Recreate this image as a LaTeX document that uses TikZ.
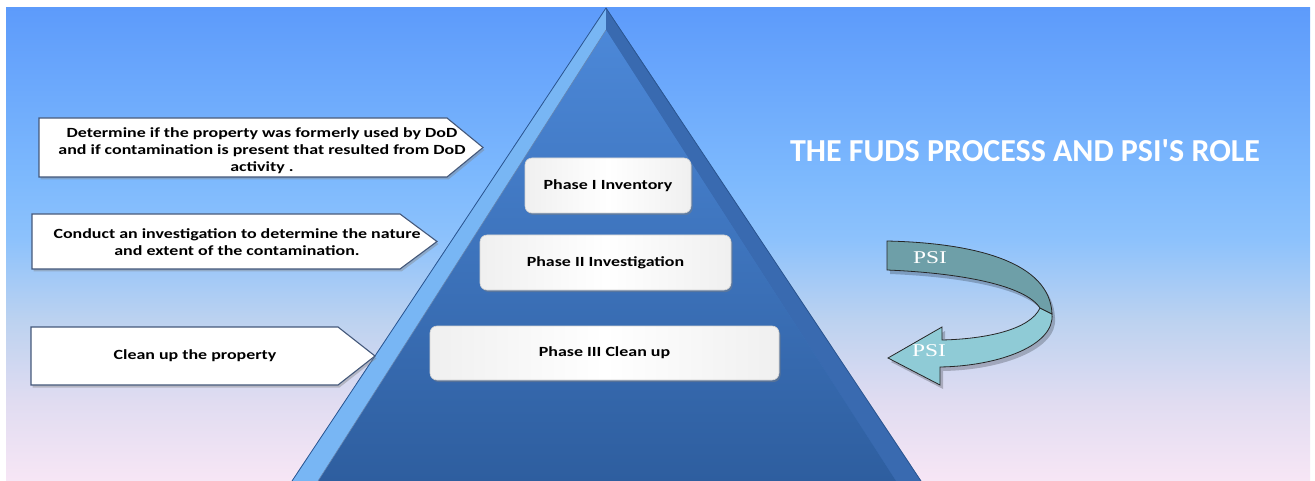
\documentclass[tikz,border=0pt]{standalone}
\usepackage{fontspec}
\setmainfont{Carlito}
\newfontfamily\boxfont[FakeStretch=1.28]{Carlito}
\newfontfamily\titlefont{Carlito}
\newfontfamily\psifont[FakeStretch=1.3]{Liberation Serif}
\usetikzlibrary{shadows,calc}
\definecolor{bgbot}{HTML}{F7E6F5}
\definecolor{bgA}{HTML}{E0DCF1}
\definecolor{bgB}{HTML}{BCD2F0}
\definecolor{bgC}{HTML}{8DC2FC}
\definecolor{bgD}{HTML}{7DB9FD}
\definecolor{bgtop}{HTML}{5D9BFB}
\definecolor{pyrout}{HTML}{3F76C4}
\definecolor{pyrline}{HTML}{2A5590}
\definecolor{pyrlight}{HTML}{78B6F4}
\definecolor{pyrtop}{HTML}{4C88D8}
\definecolor{pyrbot}{HTML}{2E5E9F}
\definecolor{boxline}{HTML}{44587A}
\definecolor{bandtop}{HTML}{6E9FA8}
\definecolor{bandbot}{HTML}{8FCBD6}
\pgfdeclareverticalshading{bgshade}{100bp}{color(0bp)=(bgbot); color(25bp)=(bgbot); color(33.5bp)=(bgA); color(42bp)=(bgB); color(50.5bp)=(bgC); color(57bp)=(bgD); color(75bp)=(bgtop); color(100bp)=(bgtop)}
\tikzset{
  phasebox/.style={draw=gray!35, line width=0.6pt, rounded corners=7pt,
    left color=gray!12, right color=gray!12, middle color=white,
    drop shadow={opacity=0.45, shadow xshift=1.5pt, shadow yshift=-2pt}},
  phasetext/.style={font=\boxfont\bfseries\fontsize{14}{17}\selectfont, text=black},
  leftbox/.style={draw=boxline, line width=1.1pt, fill=white,
    drop shadow={opacity=0.4, shadow xshift=1.5pt, shadow yshift=-2.5pt}},
  lefttext/.style={font=\boxfont\bfseries\fontsize{14}{17}\selectfont, align=center, text=black},
  band/.style={draw=black!85, line width=0.8pt},
  bandshadow/.style={fill=black, opacity=0.22},
  psitext/.style={font=\psifont\fontsize{18}{18}\selectfont, text=white},
}
\begin{document}
\begin{tikzpicture}[x=1pt,y=-1pt]
\useasboundingbox (0,0) rectangle (1315,481);
\fill[white] (0,0) rectangle (1315,481);
% background
\shade[shading=bgshade] (6,8) rectangle (1310,481);

% pyramid
\coordinate (apex) at (606,8);
\coordinate (bl) at (292,481);
\coordinate (br) at (921,481);
\coordinate (iapex) at (606,30);
\coordinate (ibl) at (318,481);
\coordinate (ibr) at (896,481);
\fill[pyrout] (apex) -- (bl) -- (br) -- cycle;
\fill[pyrlight] (apex) -- (bl) -- (ibl) -- (iapex) -- cycle;
\fill[pyrout!90!black] (apex) -- (br) -- (ibr) -- (iapex) -- cycle;
\shade[top color=pyrtop, bottom color=pyrbot] (iapex) -- (ibl) -- (ibr) -- cycle;
\draw[pyrline, line width=0.8pt] (bl) -- (apex) -- (br);
\draw[pyrline!70, line width=0.6pt] (iapex) -- (ibl);

% phase boxes
\node[phasebox, minimum width=166pt, minimum height=55pt] (p1) at (608,185.5) {};
\node[phasetext] (p1t) at (p1.center) {Phase I Inventory};
\node[phasebox, minimum width=251pt, minimum height=55pt] (p2) at (605.5,262.5) {};
\node[phasetext] (p2t) at (p2.center) {Phase II Investigation};
\node[phasebox, minimum width=349pt, minimum height=54pt] (p3) at (604.5,353) {};
\node[phasetext] (p3t) at (p3.center) {Phase III Clean up};

% left pentagon boxes
\path[leftbox] (39,118) -- (447,118) -- (483,147.5) -- (447,177) -- (39,177) -- cycle;
\node[lefttext] (l1) at (262,151) {Determine if the property was formerly used by DoD\\and if contamination is present that  resulted from DoD\\activity .};
\path[leftbox] (32,214) -- (400,214) -- (437,241.5) -- (400,269) -- (32,269) -- cycle;
\node[lefttext] (l2) at (237,242) {Conduct an investigation to determine the nature\\and extent of the contamination.};
\path[leftbox] (31,327) -- (338,327) -- (375,356) -- (338,385) -- (31,385) -- cycle;
\node[lefttext] (l3) at (195,356) {Clean up the property};

% title
\node[font=\titlefont\bfseries\fontsize{32}{36}\selectfont, text=white] (title) at (1025,151) {THE FUDS PROCESS AND PSI'S ROLE};

% PSI curved arrow: shadows
\path[bandshadow, shift={(3pt,-4pt)}] (1052,314) .. controls (1055,345) and (1000,366) .. (940,367)
  -- (940,385) -- (888,358) -- (942,327) -- (942,340)
  .. controls (985,339) and (1030,330) .. (1040,308) -- cycle;
\path[bandshadow, shift={(3pt,-4pt)}] (887,241) .. controls (975,243) and (1050,262) .. (1052,314)
  -- (1040,308) .. controls (1025,285) and (960,273) .. (887,270) -- cycle;
% bands
\path[band, fill=bandbot] (1052,314) .. controls (1055,345) and (1000,366) .. (940,367)
  -- (940,385) -- (888,358) -- (942,327) -- (942,340)
  .. controls (985,339) and (1030,330) .. (1040,308) -- cycle;
\path[band, fill=bandtop] (887,241) .. controls (975,243) and (1050,262) .. (1052,314)
  -- (1040,308) .. controls (1025,285) and (960,273) .. (887,270) -- cycle;
\node[psitext] (psi1) at (930,258) {PSI};
\node[psitext] (psi2) at (929,351) {PSI};
\end{tikzpicture}
\end{document}
